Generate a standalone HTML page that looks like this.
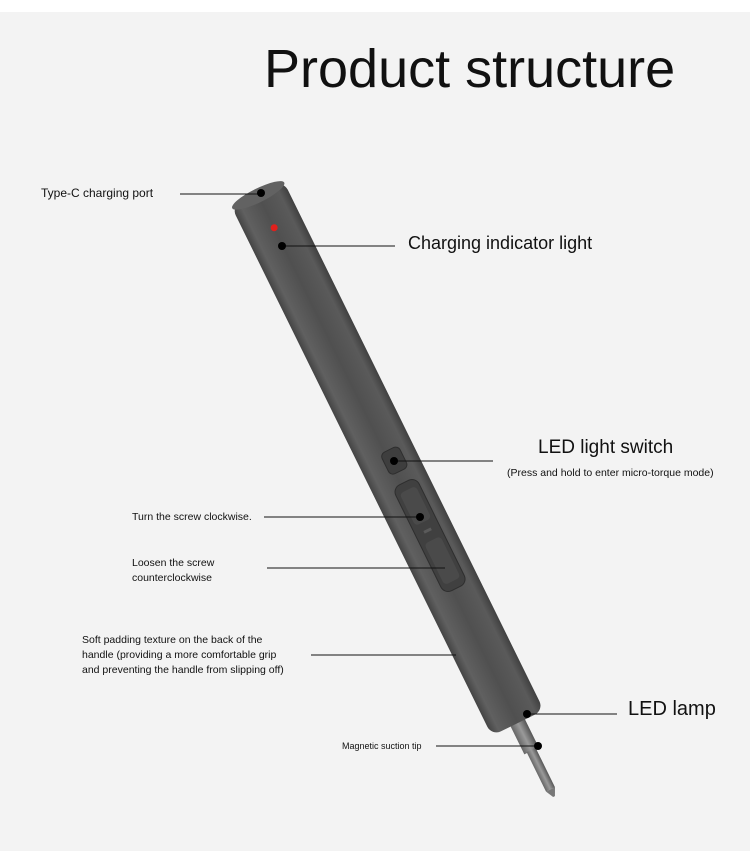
<!DOCTYPE html>
<html><head><meta charset="utf-8"><style>
body{margin:0;width:750px;height:856px;background:#fff;position:relative;overflow:hidden;font-family:"Liberation Sans",sans-serif;color:#111}
.bg{position:absolute;left:0;top:12px;width:750px;height:839px;background:#f3f3f3}
.t{position:absolute;white-space:nowrap}
</style></head><body>
<div class="bg"></div>
<svg width="750" height="856" style="position:absolute;left:0;top:0">
<defs>
<linearGradient id="g" x1="0" x2="1" y1="0" y2="0">
<stop offset="0" stop-color="#444"/><stop offset="0.15" stop-color="#606060"/><stop offset="0.5" stop-color="#505050"/><stop offset="0.85" stop-color="#5a5a5a"/><stop offset="1" stop-color="#404040"/></linearGradient>
<linearGradient id="m" x1="0" x2="1"><stop offset="0" stop-color="#666"/><stop offset="0.5" stop-color="#9a9a9a"/><stop offset="1" stop-color="#555"/></linearGradient>
</defs>
<g transform="translate(260,199) rotate(-26.2)">
<rect x="-8" y="575" width="16" height="40" fill="url(#m)"/>
<rect x="-5" y="614" width="10" height="44" fill="url(#m)"/>
<polygon points="-5,658 5,658 1,666 -1,666" fill="#777"/>
<rect x="-29" y="-6" width="58" height="590" rx="10" fill="url(#g)"/>
<ellipse cx="0" cy="-4" rx="29" ry="7" fill="#626262"/>
<circle cx="0" cy="32" r="3.5" fill="#e0201c"/>
<rect x="-5" y="282" width="20" height="24" rx="5" fill="#3e3e3e" stroke="#2e2e2e"/>
<rect x="-9" y="318" width="26" height="118" rx="8" fill="#404040" stroke="#2e2e2e"/>
<rect x="-5" y="326" width="18" height="36" rx="4" fill="#4a4a4a"/>
<rect x="0" y="370" width="8" height="3" fill="#5a5a5a"/>
<rect x="-5" y="382" width="18" height="46" rx="4" fill="#4a4a4a"/>
</g>
<g stroke="#111" stroke-width="1">
<line x1="180" y1="194" x2="260" y2="194"/>
<line x1="282" y1="246" x2="395" y2="246"/>
<line x1="395" y1="461" x2="493" y2="461"/>
<line x1="264" y1="517" x2="420" y2="517"/>
<line x1="267" y1="568" x2="445" y2="568"/>
<line x1="311" y1="655" x2="456" y2="655"/>
<line x1="527" y1="714" x2="617" y2="714"/>
<line x1="436" y1="746" x2="538" y2="746"/>
</g>
<g fill="#000">
<circle cx="261" cy="193" r="4"/><circle cx="282" cy="246" r="4"/><circle cx="394" cy="461" r="4"/>
<circle cx="420" cy="517" r="4"/><circle cx="527" cy="714" r="4"/><circle cx="538" cy="746" r="4"/>
</g>
</svg>
<div class="t" style="left:264px;top:38px;font-size:54px;color:#111">Product structure</div>
<div class="t" style="left:41px;top:186px;font-size:12px">Type-C charging port</div>
<div class="t" style="left:408px;top:233px;font-size:18px">Charging indicator light</div>
<div class="t" style="left:538px;top:437px;font-size:19px">LED light switch</div>
<div class="t" style="left:507px;top:467px;font-size:10.5px">(Press and hold to enter micro-torque mode)</div>
<div class="t" style="left:132px;top:511px;font-size:10.5px">Turn the screw clockwise.</div>
<div class="t" style="left:132px;top:556px;font-size:10.5px;line-height:15px">Loosen the screw<br>counterclockwise</div>
<div class="t" style="left:82px;top:633px;font-size:10.5px;line-height:15px">Soft padding texture on the back of the<br>handle (providing a more comfortable grip<br>and preventing the handle from slipping off)</div>
<div class="t" style="left:628px;top:698px;font-size:20px">LED lamp</div>
<div class="t" style="left:342px;top:741px;font-size:9px">Magnetic suction tip</div>
</body></html>
